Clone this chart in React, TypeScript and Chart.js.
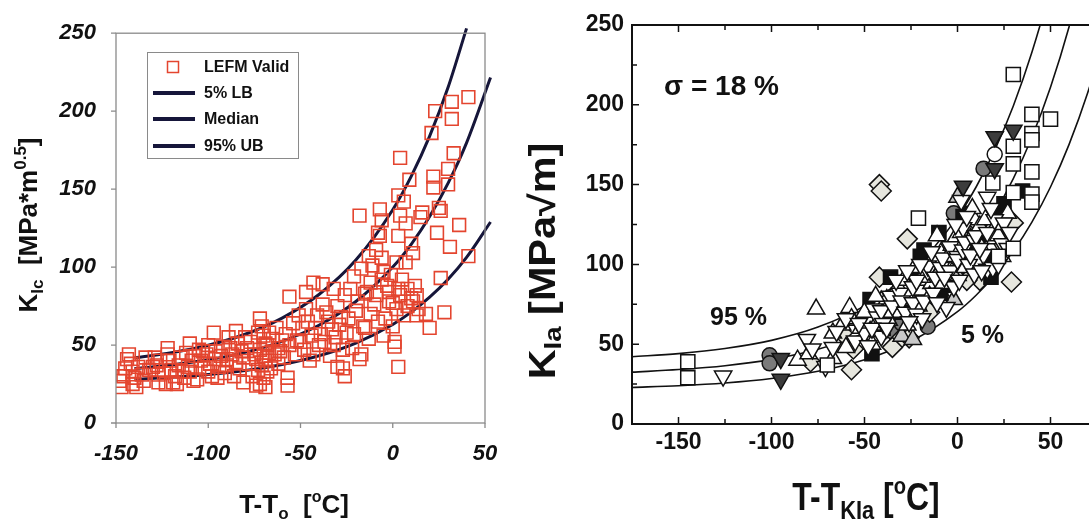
import React, { useEffect, useRef } from 'react';
import { Chart, registerables } from 'chart.js';

Chart.register(...registerables);

const FONT = "'Liberation Sans', Arial, Helvetica, sans-serif";
const RED = '#e4452f';
const NAVY = '#16163a';
const INK = '#111111';

// ---------------- Left panel data ----------------
const leftXTicks = [-150, -100, -50, 0, 50];
const leftYTicks = [0, 50, 100, 150, 200, 250];
const leftLegendLabels = ['LEFM Valid', '5% LB', 'Median', '95% UB'];

const leftBandA = [[-148,27],[-147,23],[-146,30],[-145,35],[-144,41],[-143,44],[-142,38],[-141,33],[-141,25],[-140,29],[-139,23],[-138,36],[-136,31],[-135,27],[-134,42],[-132,34],[-130,36],[-129,42],[-128,37],[-127,26],[-127,31],[-126,40],[-124,32],[-123,25],[-122,48],[-122,44],[-121,40],[-120,34],[-119,26],[-118,30],[-117,25],[-116,37],[-115,42],[-114,33],[-113,29],[-112,45],[-111,36],[-110,51],[-110,33],[-109,40],[-108,27]];
const leftBandB = [[-107,43],[-106,28],[-105,47],[-104,40],[-103,46],[-102,35],[-101,44],[-100,50],[-100,33],[-99,38],[-98,30],[-97,58],[-96,46],[-96,41],[-95,29],[-94,36],[-93,43],[-92,49],[-91,32],[-90,41],[-90,37],[-89,55],[-88,48],[-87,44],[-86,30],[-85,59],[-85,39],[-84,51],[-83,35],[-82,46],[-81,42],[-81,26],[-80,55]];
const leftBandC = [[-79,48],[-78,38],[-77,52],[-76,30],[-75,44],[-74,41],[-74,24],[-73,58],[-73,34],[-72,67],[-72,47],[-72,25],[-71,62],[-71,37],[-70,56],[-70,43],[-70,29],[-69,51],[-69,40],[-69,23],[-68,50],[-68,33],[-67,58],[-67,45],[-66,35],[-65,54],[-64,44],[-63,61],[-62,48],[-62,38],[-61,46],[-60,53],[-59,42],[-58,57],[-57,29],[-57,24],[-56,81],[-56,50]];
const leftBandD = [[-54,64],[-53,44],[-52,53],[-51,69],[-50,52],[-49,61],[-48,47],[-47,84],[-47,73],[-46,65],[-45,40],[-44,56],[-43,90],[-43,44],[-42,61],[-41,69],[-40,50],[-39,57],[-38,89],[-38,76],[-37,52],[-36,71],[-35,65],[-34,43],[-33,60],[-32,86],[-32,50],[-31,55],[-30,75],[-30,36],[-29,63],[-28,68],[-27,47],[-27,35],[-26,82],[-26,30],[-25,58]];
const leftBandE = [[-24,67],[-23,86],[-22,48],[-21,94],[-21,57],[-20,72],[-19,78],[-18,133],[-18,41],[-17,99],[-17,44],[-16,62],[-15,83],[-15,61],[-14,84],[-13,107],[-13,54],[-12,90],[-12,70],[-11,101],[-10,76],[-9,82],[-9,111],[-8,122],[-8,65],[-7,137],[-7,120],[-6,130],[-6,106],[-6,92],[-5,97],[-5,56],[-4,67],[-3,88],[-2,84],[-2,78],[-1,95],[0,77],[0,62],[1,52],[1,49]];
const leftBandF = [[2,103],[2,73],[3,146],[3,120],[3,86],[3,36],[4,170],[4,133],[4,82],[5,92],[6,142],[6,69],[7,103],[7,128],[8,86],[8,75],[9,156],[10,115],[10,80],[11,109],[11,78],[12,88],[13,82],[13,69],[14,73],[15,132],[16,135],[18,70],[20,61],[21,186],[22,158],[22,151],[23,200],[24,122],[25,138],[26,136],[26,93],[28,71],[30,163],[30,153],[31,113],[32,206],[32,195],[33,173],[36,127],[41,209],[41,107]];

const leftCurveT = [-140, -120, -100, -80, -60, -40, -20, 0, 10, 20, 30, 40, 53];
const leftLower = [28.0, 29.3, 31.1, 33.7, 37.5, 43.1, 51.3, 63.2, 71.1, 80.7, 92.2, 106.2, 128.9];
const leftMedian = [34.9, 37.2, 40.5, 45.3, 52.4, 62.7, 77.9, 100, 114.6, 132.4, 153.8, 179.7, 221.6];
const leftUpperT = [-140, -120, -100, -80, -60, -40, -20, 0, 10, 20, 30, 40];
const leftUpper = [41.7, 45.1, 49.9, 56.9, 67.3, 82.4, 104.5, 136.8, 158.2, 184.0, 215.3, 253.1];

// ---------------- Right panel data ----------------
const rOpenSquares = [[-145,39],[-145,29],[-70,37],[-21,129],[19,151],[22,105],[30,219],[30,174],[30,163],[30,145],[30,110],[40,194],[40,182],[40,178],[40,158],[40,144],[40,139],[50,191]];
const rBlackSquares = [[-47,78],[-46,44],[-36,92],[-18,109],[-9,82],[3,130],[6,132],[12,115],[16,102],[25,138],[35,146],[-40,60],[-25,93],[-5,87],[18,92],[-30,70],[-10,120],[8,110],[22,130],[-20,105]];
const rOpenTriUp = [[-86,40],[-80,44],[-76,72],[-67,41],[-67,57],[-58,73],[-57,66],[-52,60],[-48,66],[-46,50],[-44,62],[-41,77],[-38,78],[-37,65],[-34,70],[-32,86],[-26,80],[-23,98],[-20,84],[-16,90],[-14,88],[-10,95],[-9,107],[-6,100],[-3,112],[-1,117],[0,93],[2,120],[5,108],[9,128],[11,102],[12,124],[18,110],[19,116],[22,118],[27,132],[-60,48],[-62,62],[-50,70],[-47,58],[-44,80],[-39,70],[-33,75],[-29,90],[-27,62],[-21,74],[-19,92],[-15,80],[-12,100],[-8,88],[-5,105],[-3,95],[1,110],[4,98],[7,116],[8,135],[13,110],[15,128],[21,125],[24,105],[-11,118]];
const rGrayTriUp = [[-54,65],[-30,55],[-24,53],[-2,78],[0,142]];
const rOpenTriDown = [[-126,30],[-81,53],[-78,47],[-71,36],[-67,48],[-55,52],[-50,57],[-45,72],[-43,67],[-41,55],[-41,71],[-40,63],[-36,80],[-35,74],[-31,82],[-30,77],[-28,70],[-24,86],[-24,76],[-22,90],[-22,69],[-18,77],[-16,96],[-16,99],[-13,82],[-12,92],[-9,98],[-8,104],[-6,73],[-4,96],[-4,111],[-2,86],[0,105],[0,103],[3,123],[3,109],[4,114],[6,100],[9,94],[9,115],[10,118],[14,106],[16,142],[16,120],[16,97],[19,98],[20,128],[24,113],[25,126],[28,120],[-65,58],[-60,66],[-53,63],[-48,49],[-46,60],[-38,60],[-33,90],[-27,96],[-20,100],[-19,66],[-14,108],[-11,76],[-7,92],[-1,125],[1,90],[5,130],[7,106],[12,110],[13,96],[18,135],[22,100],[27,110],[-26,64],[2,140]];
const rDarkTriDown = [[-95,41],[-95,28],[3,149],[20,180],[20,160],[30,184]];
const rDiamonds = [[-79,39],[-62,57],[-57,34],[-56,47],[-45,55],[-42,150],[-41,146],[-42,92],[-31,53],[-27,116],[-26,54],[-8,78],[12,90],[29,89],[30,126],[-35,48],[-15,70],[5,90],[20,110]];
const rGrayCircles = [[-101,43],[-101,38],[-35,58],[-30,63],[-20,80],[-16,61],[-2,132],[0,96],[10,100],[14,160],[25,119],[-25,72],[5,120],[-45,65]];
const rOpenCircles = [[20,169]];

const rightCurveT = [-175, -150, -125, -100, -75, -50, -25, 0, 10, 20, 30, 40, 50, 60, 70, 80];
const right95 = [42.1, 44.1, 47.3, 52.4, 60.7, 74.0, 95.3, 129.6, 148.5, 171.6, 199.3, 232.9, 273.5, 322.6, 381.9, 453.7];
const rightMedian = [32.5, 34.1, 36.5, 40.5, 46.8, 57.1, 73.5, 100, 114.6, 132.4, 153.8, 179.7, 211.0, 248.9, 294.7, 350.1];
const right5 = [22.9, 24.0, 25.7, 28.5, 33.0, 40.2, 51.8, 70.4, 80.7, 93.2, 108.3, 126.5, 148.5, 175.2, 207.5, 246.5];

// ---------------- helpers ----------------
const pts = (a: number[][]) => a.map(([x, y]) => ({ x, y }));
const curve = (t: number[], v: number[]) => t.map((x, i) => ({ x, y: v[i] }));

type Run = { t: string; size: number; dy?: number };
function drawRuns(ctx: CanvasRenderingContext2D, runs: Run[], x: number, y: number, align: 'left' | 'center', sx = 1, rot = 0) {
  ctx.save();
  ctx.translate(x, y);
  if (rot) ctx.rotate(rot);
  ctx.scale(sx, 1);
  ctx.fillStyle = INK;
  ctx.textAlign = 'left';
  ctx.textBaseline = 'alphabetic';
  const widths = runs.map((r) => {
    ctx.font = `bold ${r.size}px ${FONT}`;
    return ctx.measureText(r.t).width;
  });
  const total = widths.reduce((s, w) => s + w, 0);
  let cx = align === 'center' ? -total / 2 : 0;
  runs.forEach((r, i) => {
    ctx.font = `bold ${r.size}px ${FONT}`;
    ctx.fillText(r.t, cx, r.dy || 0);
    cx += widths[i];
  });
  ctx.restore();
}

const leftDecor = {
  id: 'leftDecor',
  afterDraw(chart: any) {
    const { ctx, chartArea: a, scales } = chart;
    const xs = scales.x, ys = scales.y;
    ctx.save();
    ctx.strokeStyle = '#8a8a8a';
    ctx.lineWidth = 1.3;
    ctx.strokeRect(a.left, a.top, a.right - a.left, a.bottom - a.top);
    ctx.beginPath();
    leftXTicks.forEach((v) => { const p = xs.getPixelForValue(v); ctx.moveTo(p, a.bottom); ctx.lineTo(p, a.bottom + 5); });
    leftYTicks.forEach((v) => { const p = ys.getPixelForValue(v); ctx.moveTo(a.left - 5, p); ctx.lineTo(a.left, p); });
    ctx.stroke();

    // legend box
    ctx.fillStyle = '#ffffff';
    ctx.fillRect(148, 53, 151, 106);
    ctx.strokeStyle = '#8a8a8a';
    ctx.lineWidth = 1;
    ctx.strokeRect(147.5, 52.5, 151, 106);
    const rowsY = [67, 93, 119, 146];
    ctx.strokeStyle = RED;
    ctx.lineWidth = 1.5;
    ctx.strokeRect(167.5, 61.5, 11, 11);
    ctx.strokeStyle = NAVY;
    ctx.lineWidth = 4;
    for (let i = 1; i < 4; i++) {
      ctx.beginPath();
      ctx.moveTo(153, rowsY[i]);
      ctx.lineTo(195, rowsY[i]);
      ctx.stroke();
    }
    ctx.fillStyle = INK;
    ctx.font = `bold 16px ${FONT}`;
    ctx.textBaseline = 'middle';
    ctx.textAlign = 'left';
    leftLegendLabels.forEach((l, i) => ctx.fillText(l, 204, rowsY[i] + 1));
    ctx.restore();

    // axis titles
    drawRuns(ctx, [
      { t: 'K', size: 26 }, { t: 'Ic', size: 17, dy: 6 }, { t: '  [MPa*m', size: 26 },
      { t: '0.5', size: 17, dy: -11 }, { t: ']', size: 26 },
    ], 37, 225, 'center', 1, -Math.PI / 2);
    drawRuns(ctx, [
      { t: 'T-T', size: 26 }, { t: 'o', size: 17, dy: 6 }, { t: '  [', size: 26 },
      { t: 'o', size: 16, dy: -11 }, { t: 'C]', size: 26 },
    ], 294, 513, 'center');
  },
};

const rightDecor = {
  id: 'rightDecor',
  afterDraw(chart: any) {
    const { ctx, chartArea: a, scales } = chart;
    const xs = scales.x, ys = scales.y;
    ctx.save();
    ctx.strokeStyle = INK;
    ctx.lineWidth = 2;
    ctx.strokeRect(a.left, a.top, a.right - a.left, a.bottom - a.top);
    ctx.lineWidth = 1.5;
    ctx.beginPath();
    xs.ticks.forEach((t: any) => {
      const p = xs.getPixelForValue(t.value);
      const len = t.value % 50 === 0 ? 7 : 5;
      ctx.moveTo(p, a.bottom); ctx.lineTo(p, a.bottom - len);
      ctx.moveTo(p, a.top); ctx.lineTo(p, a.top + len);
    });
    ys.ticks.forEach((t: any) => {
      const p = ys.getPixelForValue(t.value);
      const len = t.value % 50 === 0 ? 7 : 5;
      ctx.moveTo(a.left, p); ctx.lineTo(a.left + len, p);
      ctx.moveTo(a.right, p); ctx.lineTo(a.right - len, p);
    });
    ctx.stroke();
    ctx.restore();

    drawRuns(ctx, [{ t: 'σ = 18 %', size: 28 }], 149, 95, 'left');
    drawRuns(ctx, [{ t: '95 %', size: 25 }], 195, 325, 'left');
    drawRuns(ctx, [{ t: '5 %', size: 25 }], 446, 343, 'left');

    drawRuns(ctx, [
      { t: 'K', size: 36 }, { t: 'Ia', size: 24, dy: 6 }, { t: ' [MPa√m]', size: 36 },
    ], 40, 261, 'center', 1.15, -Math.PI / 2);
    drawRuns(ctx, [
      { t: 'T-T', size: 38 }, { t: 'KIa', size: 26, dy: 9 }, { t: ' [', size: 38 },
      { t: 'o', size: 24, dy: -16 }, { t: 'C]', size: 38 },
    ], 351, 510, 'center', 0.84);
  },
};

function lineDs(label: string, data: any[], color: string, width: number, clip: any) {
  return {
    label, data, showLine: true, pointRadius: 0, borderColor: color, borderWidth: width,
    backgroundColor: color, cubicInterpolationMode: 'monotone', fill: false, order: 10, clip,
  };
}

function markerDs(label: string, data: number[][], style: string, radius: number, fill: string, rotation = 0, border = INK) {
  return {
    label, data: pts(data), pointStyle: style, pointRadius: radius, pointRotation: rotation,
    backgroundColor: fill, borderColor: border, pointBorderWidth: 1.5, borderWidth: 1.5, order: 0,
  };
}

export default function App() {
  const leftRef = useRef<HTMLCanvasElement>(null);
  const rightRef = useRef<HTMLCanvasElement>(null);

  useEffect(() => {
    const tickFontL = { family: FONT, size: 22, weight: 'bold', style: 'italic' } as any;
    const tickFontR = { family: FONT, size: 23, weight: 'bold' } as any;
    const leftPoints = pts([...leftBandA, ...leftBandB, ...leftBandC, ...leftBandD, ...leftBandE, ...leftBandF]);
    const leftClip = { left: 0, top: 6, right: 10, bottom: 0 };

    const c1 = new Chart(leftRef.current as HTMLCanvasElement, {
      type: 'scatter',
      data: {
        datasets: [
          {
            label: leftLegendLabels[0], data: leftPoints, pointStyle: 'rect', pointRadius: 9,
            borderColor: RED, backgroundColor: 'rgba(0,0,0,0)', pointBorderWidth: 1.6, borderWidth: 1.6, order: 0,
          } as any,
          lineDs(leftLegendLabels[1], curve(leftCurveT, leftLower), NAVY, 3, leftClip) as any,
          lineDs(leftLegendLabels[2], curve(leftCurveT, leftMedian), NAVY, 3, leftClip) as any,
          lineDs(leftLegendLabels[3], curve(leftUpperT, leftUpper), NAVY, 3, leftClip) as any,
        ],
      },
      options: {
        responsive: false, animation: false, devicePixelRatio: 1, events: [],
        layout: { padding: { left: 0, right: 60, top: 27, bottom: 0 }, autoPadding: false } as any,
        plugins: { legend: { display: false }, tooltip: { enabled: false } },
        scales: {
          x: {
            type: 'linear', min: -150, max: 50,
            ticks: { stepSize: 50, font: tickFontL, color: INK, padding: 18, maxRotation: 0, autoSkip: false },
            grid: { display: false, drawTicks: false }, border: { display: false },
            afterFit: (s: any) => { s.height = 96; },
          },
          y: {
            type: 'linear', min: 0, max: 250,
            ticks: { stepSize: 50, font: tickFontL, color: INK, padding: 20, autoSkip: false },
            grid: { display: false, drawTicks: false }, border: { display: false },
            afterFit: (s: any) => { s.width = 116; },
          },
        },
      } as any,
      plugins: [leftDecor],
    });

    // dataset index 0 is drawn on top
    const c2 = new Chart(rightRef.current as HTMLCanvasElement, {
      type: 'scatter',
      data: {
        datasets: [
          markerDs('dark triangle down', rDarkTriDown, 'triangle', 10, '#3c3c3c', 180) as any,
          markerDs('open square', rOpenSquares, 'rect', 10, '#ffffff') as any,
          markerDs('open triangle down', rOpenTriDown, 'triangle', 10, '#ffffff', 180) as any,
          markerDs('open triangle up', rOpenTriUp, 'triangle', 10, '#ffffff') as any,
          markerDs('black square', rBlackSquares, 'rect', 10, '#111111') as any,
          markerDs('gray triangle up', rGrayTriUp, 'triangle', 10, '#c8c8c8') as any,
          markerDs('diamond', rDiamonds, 'rectRot', 10, '#e6e6de') as any,
          markerDs('open circle', rOpenCircles, 'circle', 7.5, '#ffffff') as any,
          markerDs('gray circle', rGrayCircles, 'circle', 7.5, '#7a7a7a') as any,
          lineDs('95 %', curve(rightCurveT, right95), INK, 1.6, undefined) as any,
          lineDs('50 %', curve(rightCurveT, rightMedian), INK, 1.6, undefined) as any,
          lineDs('5 %', curve(rightCurveT, right5), INK, 1.6, undefined) as any,
        ],
      },
      options: {
        responsive: false, animation: false, devicePixelRatio: 1, events: [],
        layout: { padding: { left: 0, right: 48, top: 25, bottom: 0 }, autoPadding: false } as any,
        plugins: { legend: { display: false }, tooltip: { enabled: false } },
        scales: {
          x: {
            type: 'linear', min: -175, max: 75,
            ticks: {
              stepSize: 25, font: tickFontR, color: INK, padding: 5, maxRotation: 0, autoSkip: false,
              callback: (v: any) => (Number(v) % 50 === 0 ? String(v) : ''),
            },
            grid: { display: false, drawTicks: false }, border: { display: false },
            afterFit: (s: any) => { s.height = 95; },
          },
          y: {
            type: 'linear', min: 0, max: 250,
            ticks: {
              stepSize: 25, font: tickFontR, color: INK, padding: 8, autoSkip: false,
              callback: (v: any) => (Number(v) % 50 === 0 ? String(v) : ''),
            },
            grid: { display: false, drawTicks: false }, border: { display: false },
            afterFit: (s: any) => { s.width = 117; },
          },
        },
      } as any,
      plugins: [rightDecor],
    });

    return () => { c1.destroy(); c2.destroy(); };
  }, []);

  return (
    <div style={{ position: 'fixed', left: 0, top: 0, width: 1089, height: 519, overflow: 'hidden', background: '#ffffff' }}>
      <canvas ref={leftRef} width={545} height={519} style={{ position: 'absolute', left: 0, top: 0, width: 545, height: 519 }} />
      <canvas ref={rightRef} width={630} height={519} style={{ position: 'absolute', left: 515, top: 0, width: 630, height: 519 }} />
    </div>
  );
}
